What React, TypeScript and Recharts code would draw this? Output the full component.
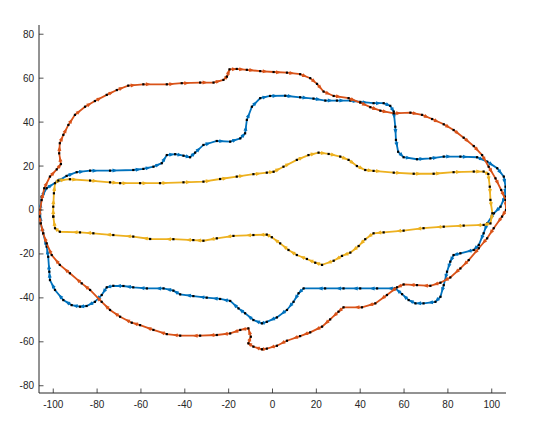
import { ScatterChart, Scatter, XAxis, YAxis } from "recharts";

// closed paths (x, y), walked clockwise
const bluePath: [number, number][] = [
  [-106, 0], [-105.3, 6.1], [-103, 9.9], [-98.4, 12.9], [-93.9, 15.5], [-89.3, 17.2], [-83.2, 17.9],
  [-74.1, 17.9], [-63.5, 18.2], [-58.9, 18.7], [-54.3, 19.7], [-50.5, 21.3], [-48.2, 25], [-44.4, 25.4],
  [-40.6, 24.7], [-37.6, 24], [-35.3, 26.1], [-31.5, 29.6], [-25.4, 31.4], [-19.3, 31.1], [-14.7, 32.6],
  [-12.5, 34.9], [-11.7, 41], [-9.4, 47], [-5.6, 50.9], [-1.1, 51.9], [5.8, 52], [12.6, 51.3], [18.7, 50.7],
  [24.1, 49.8], [29.4, 49.8], [35.5, 49.8], [40, 49.2], [46.1, 48.6], [50.7, 48.6], [53.7, 47.4],
  [55.3, 44.8], [56, 37.9], [56.3, 31.9], [57.3, 26.5], [59.8, 24], [65.9, 23.1], [72, 23.5], [78.1, 24.3],
  [85.7, 24.3], [93.3, 24], [97.9, 22], [102.5, 19], [105.5, 15.2], [106.3, 10.6], [106, 6.1], [104, 1.5],
  [101, -1.5], [97.9, -6.1], [96.3, -10.6], [94.1, -15.9], [91.8, -18.2], [85.7, -19.7], [82.6, -20.5],
  [81.1, -23.5], [79.6, -28.1], [78.1, -34.2], [76.6, -39.5], [74.3, -41.8], [68.9, -42.5], [65.2, -42.5],
  [62.1, -41], [59.1, -38.3], [56, -35.7], [47.7, -35.7], [40, -35.7], [32.4, -35.7], [24, -35.7],
  [14.2, -35.7], [11.9, -37.9], [9.6, -41.8], [6.6, -45.5], [2, -48.9], [-2.6, -50.9], [-4.8, -51.6],
  [-8.7, -50.1], [-12.5, -47], [-15.5, -44.8], [-19.3, -41.4], [-23.9, -40.5], [-30, -39.9], [-36.1, -39.2],
  [-42.1, -38.4], [-45.2, -36.7], [-49.7, -35.7], [-57.3, -35.7], [-63.5, -35.2], [-68, -34.6],
  [-72.6, -34.5], [-75.6, -35.2], [-77.9, -38.7], [-81, -41.8], [-84.8, -43.7], [-87.8, -44], [-91.6, -43.3],
  [-95.4, -41], [-99.2, -36.4], [-101.5, -31.9], [-101.8, -28.1], [-102.3, -21.3], [-103, -16.7],
  [-104.6, -10.6], [-105.7, -6.1], [-106, 0],
];

const orangePath: [number, number][] = [
  [-106.4, -3], [-105.3, 4.5], [-104.1, 9.9], [-101.5, 15.2], [-98.4, 18.5], [-96.5, 20.9], [-97.3, 25.8],
  [-97, 30.4], [-95.4, 34.2], [-93.1, 38.7], [-90.1, 43.3], [-85.5, 47], [-81, 49.6], [-75.6, 52.4],
  [-71, 54.6], [-65.8, 56.6], [-58.9, 57.2], [-48.2, 57.2], [-41.4, 57.7], [-33, 58], [-26.9, 58],
  [-22.4, 59.2], [-20.8, 60.7], [-19.6, 64], [-16.3, 64.2], [-11.7, 63.8], [-5.6, 63.2], [0.5, 62.8],
  [6.6, 62.5], [12.6, 61.8], [17.2, 60], [20.3, 57.4], [23.3, 53.9], [27.9, 51.9], [34.7, 50.9], [40, 48.9],
  [44.6, 46.8], [49.2, 45.2], [55.3, 44], [62.9, 44.3], [68.2, 43.3], [72.8, 41.4], [78.1, 39], [82.6, 36.4],
  [87.2, 32.9], [91.8, 29.1], [95.6, 25], [98.6, 19.7], [101.7, 14.4], [104.3, 9.1], [106.3, 4.6],
  [106.5, 0], [104.7, -3], [100.9, -8.3], [97.9, -12.9], [94.1, -17.4], [89.5, -22.8], [85.7, -26.6],
  [81.1, -30.7], [76.6, -33.1], [72, -34.5], [65.9, -34.2], [59.8, -33.9], [56.8, -35.2], [52.2, -38.7],
  [46.9, -42.5], [40.8, -44.3], [32.4, -44.3], [30.1, -46.3], [26.3, -49.8], [22.6, -53.1], [17.2, -55.7],
  [12.6, -57.4], [6.6, -59.5], [2, -61.8], [-2.6, -63.1], [-4.8, -63.4], [-8.7, -62.2], [-11, -60.7],
  [-9.9, -57.7], [-11, -53.9], [-14.7, -54.6], [-19.3, -56.2], [-25.4, -56.9], [-33, -57.2], [-42.1, -57.2],
  [-48.2, -56.5], [-54.3, -54.6], [-60.4, -52.4], [-64.2, -51.3], [-69.5, -48.6], [-74.1, -45.5],
  [-77.9, -41.8], [-83.2, -36.4], [-87, -33.4], [-92.4, -28.8], [-97, -25], [-100.7, -20.5], [-103, -15.2],
  [-104.6, -10.6], [-105.7, -6.1], [-106.4, -3],
];

const yellowPath: [number, number][] = [
  [-100, -3], [-100, 1.5], [-99.7, 7.6], [-99.2, 12.2], [-97.7, 13.4], [-92.4, 14], [-83.2, 13.4],
  [-74.1, 12.6], [-69.5, 12.2], [-60.4, 12.2], [-51.3, 12.2], [-40.6, 12.6], [-31.5, 12.9], [-23.9, 14.1],
  [-16.3, 15.2], [-8.7, 16.3], [-2.6, 17], [0.5, 17.4], [5, 19.7], [11.1, 22.8], [16.4, 25], [21, 26.1],
  [25.6, 25.5], [30.9, 24.3], [34.7, 22.8], [38.5, 20], [42.3, 18.2], [46.1, 17.8], [55.3, 17], [64.4, 16.5],
  [73.5, 16.5], [82.6, 17.2], [91.8, 17.5], [96.3, 17.5], [98.4, 16.4], [99.1, 10.6], [99.4, 4.6],
  [100.3, -1.5], [99.4, -6.1], [96.3, -6.8], [87.2, -7.1], [78.1, -7.6], [68.9, -8.3], [59.8, -9.4],
  [50.7, -10.2], [46.1, -10.6], [42.3, -13.3], [39.3, -16.4], [35.5, -19.4], [31.7, -20.9], [27.9, -23.1],
  [22.6, -25], [19.5, -24], [15.7, -22.3], [11.1, -20.5], [7.3, -18.2], [3.5, -15.2], [-0.3, -12.4],
  [-2.6, -11.2], [-8.7, -11.4], [-17.8, -11.8], [-25.4, -12.9], [-31.5, -14], [-36.1, -13.7],
  [-45.2, -13.3], [-55.8, -13.2], [-63.5, -12.1], [-72.6, -11.4], [-81.7, -10.6], [-87.8, -10.2],
  [-97, -9.9], [-99.2, -8.3], [-100, -3],
];

const xTicks = [-100, -80, -60, -40, -20, 0, 20, 40, 60, 80, 100];
const yTicks = [-80, -60, -40, -20, 0, 20, 40, 60, 80];

const AXIS = "#262626";
const FONT = "'Liberation Sans', Arial, sans-serif";

const toPoints = (path: [number, number][]) => path.map(([x, y]) => ({ x, y }));

const series = [
  { name: "blue", color: "#0072bd", data: toPoints(bluePath) },
  { name: "orange", color: "#d95319", data: toPoints(orangePath) },
  { name: "yellow", color: "#edb120", data: toPoints(yellowPath) },
];

// black marker plus a small arrowhead pointing toward the next point (quiver look)
const makeShape = (data: { x: number; y: number }[], color: string) => (props: any) => {
  const { cx, cy } = props;
  let i = data.indexOf(props.payload);
  if (i < 0) i = props.index ?? 0;
  const next = data[i + 1];
  let arrow = null;
  if (next) {
    const ang = (Math.atan2(-(next.y - data[i].y), next.x - data[i].x) * 180) / Math.PI;
    arrow = (
      <polygon
        points="2.5,-2 7.5,0 2.5,2"
        fill={color}
        transform={`translate(${cx},${cy}) rotate(${ang})`}
      />
    );
  }
  return (
    <g>
      {arrow}
      <rect x={cx - 1.1} y={cy - 1.1} width={2.2} height={2.2} fill="#000" />
    </g>
  );
};

const BottomTick = ({ x, y, payload }: any) => (
  <g>
    <line x1={x} y1={y} x2={x} y2={y - 4.5} stroke={AXIS} strokeWidth={0.8} />
    <text x={x} y={y + 15} textAnchor="middle" fontSize={10} fontFamily={FONT} fill={AXIS}>
      {payload.value}
    </text>
  </g>
);

const LeftTick = ({ x, y, payload }: any) => (
  <g>
    <line x1={x} y1={y} x2={x + 4.5} y2={y} stroke={AXIS} strokeWidth={0.8} />
    <text x={x - 5} y={y + 3.5} textAnchor="end" fontSize={10} fontFamily={FONT} fill={AXIS}>
      {payload.value}
    </text>
  </g>
);

const TopTick = ({ x, y }: any) => (
  <line x1={x} y1={y} x2={x} y2={y + 4.5} stroke={AXIS} strokeWidth={0.8} />
);

const RightTick = ({ x, y }: any) => (
  <line x1={x} y1={y} x2={x - 4.5} y2={y} stroke={AXIS} strokeWidth={0.8} />
);

export default function App() {
  return (
    <ScatterChart width={529} height={411} margin={{ top: 17, right: 31, bottom: 0, left: 0 }}>
      <XAxis
        type="number"
        dataKey="x"
        domain={[-106.5, 106.5]}
        allowDataOverflow
        ticks={xTicks}
        interval={0}
        height={26}
        tickSize={0}
        tickMargin={0}
        tickLine={false}
        tick={<BottomTick />}
        axisLine={{ stroke: AXIS, strokeWidth: 1 }}
      />
      <XAxis
        xAxisId="top"
        orientation="top"
        type="number"
        domain={[-106.5, 106.5]}
        allowDataOverflow
        ticks={xTicks}
        interval={0}
        height={0}
        tickSize={0}
        tickMargin={0}
        tickLine={false}
        tick={<TopTick />}
        axisLine={{ stroke: AXIS, strokeWidth: 0.8 }}
      />
      <YAxis
        type="number"
        dataKey="y"
        domain={[-83.3, 84.2]}
        allowDataOverflow
        ticks={yTicks}
        interval={0}
        width={31}
        tickSize={0}
        tickMargin={0}
        tickLine={false}
        tick={<LeftTick />}
        axisLine={{ stroke: AXIS, strokeWidth: 1 }}
      />
      <YAxis
        yAxisId="right"
        orientation="right"
        type="number"
        domain={[-83.3, 84.2]}
        allowDataOverflow
        ticks={yTicks}
        interval={0}
        width={0}
        tickSize={0}
        tickMargin={0}
        tickLine={false}
        tick={<RightTick />}
        axisLine={{ stroke: AXIS, strokeWidth: 0.8 }}
      />
      {series.map((s) => (
        <Scatter
          key={s.name}
          data={s.data}
          line={{ stroke: s.color, strokeWidth: 1.8 }}
          lineJointType="linear"
          shape={makeShape(s.data, s.color)}
          isAnimationActive={false}
        />
      ))}
    </ScatterChart>
  );
}
